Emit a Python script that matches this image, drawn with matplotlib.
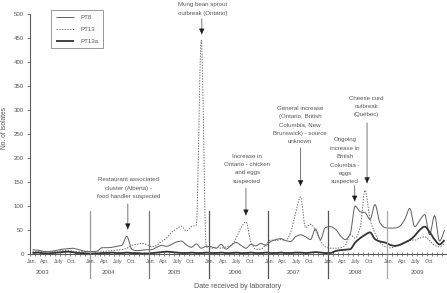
import numpy as np
import matplotlib
matplotlib.use('Agg')
import matplotlib.pyplot as plt

plt.rcParams['font.family'] = ['Liberation Sans', 'DejaVu Sans']

# ---------------- data ----------------
years = [2003, 2004, 2005, 2006, 2007, 2008, 2009]
month_labels = ['Jan.', 'Apr.', 'July', 'Oct.']
series_names = ['PT8', 'PT13', 'PT13a']

pt8 = [9, 8, 6, 5, 6, 8, 10, 11, 12, 10, 7, 5,
       5, 6, 13, 13, 14, 16, 18, 37, 10, 7, 8, 9,
       9, 14, 18, 16, 20, 25, 27, 19, 14, 21, 12, 16,
       15, 12, 20, 10, 18, 24, 18, 12, 20, 17, 22, 18,
       26, 30, 32, 28, 26, 36, 40, 36, 30, 52, 30, 55,
       57, 52, 38, 30, 42, 100, 88, 86, 72, 103, 65, 55,
       54, 54, 58, 72, 95, 57, 70, 82, 40, 80, 27, 50]

pt13 = [5, 6, 5, 4, 5, 6, 7, 8, 6, 5, 5, 6,
        5, 4, 5, 6, 7, 8, 9, 12, 18, 20, 22, 20,
        15, 18, 26, 33, 45, 52, 58, 48, 57, 60, 445, 15,
        12, 14, 12, 15, 18, 33, 55, 67, 25, 10, 10, 20,
        29, 28, 30, 28, 45, 85, 119, 55, 62, 50, 28, 15,
        12, 12, 13, 18, 40, 33, 55, 133, 72, 43, 24, 16,
        13, 15, 20, 25, 29, 29, 33, 36, 28, 18, 15, 22]

pt13a = [2, 3, 2, 1, 2, 3, 4, 5, 4, 2, 2, 1,
         1, 1, 2, 2, 3, 2, 2, 3, 2, 2, 1, 1,
         2, 3, 4, 5, 4, 3, 2, 2, 3, 2, 2, 3,
         2, 2, 3, 2, 2, 3, 2, 2, 3, 2, 2, 3,
         2, 2, 3, 2, 2, 3, 3, 2, 3, 4, 3, 2,
         2, 6, 8, 9, 10, 24, 33, 40, 45, 31, 26, 24,
         19, 17, 19, 24, 29, 38, 50, 57, 46, 30, 20, 29]

event_texts = ['Restaurant associated\ncluster (Alberta) -\nfood handler suspected',
               'Mung bean sprout\noutbreak (Ontario)',
               'Increase in\nOntario - chicken\nand eggs\nsuspected',
               'General increase\n(Ontario, British\nColumbia, New\nBrunswick) - source\nunknown',
               'Ongoing\nincrease in\nBritish\nColumbia -\neggs\nsuspected',
               'Cheese curd\noutbreak\n(Qu\u00e9bec)']

# ---------------- layout ----------------
# text centre x (months), text top (value), arrow x (months), arrow start, arrow end
ann_layout = [(19.8, 160, 19.7, 104, 52),
              (34.7, 524, 34.6, 490, 458),
              (43.75, 209, 43.5, 137, 81),
              (54.4, 309, 54.5, 221, 142),
              (63.5, 243, 65.4, 142, 110),
              (67.7, 330, 67.9, 273, 148)]
month_offsets = [0.3, 3.0, 5.7, 8.4]
year_offsets = [2.6, 3.9, 5.2, 5.3, 5.0, 5.5, 6.0]
sep_colors = ['#9a9a9a', '#7a7a7a', '#555555', '#555555', '#555555', '#aaaaaa']
TXT = '#555555'


def pchip(x, y, n=10):
    x = np.asarray(x, float)
    y = np.asarray(y, float)
    h = np.diff(x)
    delta = np.diff(y) / h
    d = np.zeros_like(y)
    for k in range(1, len(y) - 1):
        if delta[k - 1] * delta[k] > 0:
            d[k] = 2.0 / (1.0 / delta[k - 1] + 1.0 / delta[k])
    d[0] = delta[0]
    d[-1] = delta[-1]
    xs, ys = [], []
    t = np.linspace(0, 1, n, endpoint=False)
    for k in range(len(x) - 1):
        h00 = 2 * t**3 - 3 * t**2 + 1
        h10 = t**3 - 2 * t**2 + t
        h01 = -2 * t**3 + 3 * t**2
        h11 = t**3 - t**2
        xs.append(x[k] + t * h[k])
        ys.append(h00 * y[k] + h10 * h[k] * d[k] + h01 * y[k + 1] + h11 * h[k] * d[k + 1])
    xs.append([x[-1]])
    ys.append([y[-1]])
    return np.concatenate(xs), np.concatenate(ys)


W, H = 447, 293
fig = plt.figure(figsize=(W / 100, H / 100), dpi=100)
ax = fig.add_axes([30 / W, 1 - 254 / H, 417 / W, 240 / H])

months = np.arange(len(pt8)) + 0.5
styles = [dict(color='#5e5e5e', lw=0.7, ls='-'),
          dict(color='#6a6a6a', lw=0.7, ls=(0, (1.4, 1.4))),
          dict(color='#333333', lw=1.3, ls='-')]
for name, vals, st in zip(series_names, [pt8, pt13, pt13a], styles):
    xs, ys = pchip(months, vals)
    ax.plot(xs, ys, label=name, solid_capstyle='butt', **st)

ax.set_xlim(0, 84)
ax.set_ylim(0, 500)
for s in ['top', 'right']:
    ax.spines[s].set_visible(False)
for s in ['left', 'bottom']:
    ax.spines[s].set_color('#5a5a5a')
    ax.spines[s].set_linewidth(0.8)

ax.set_yticks(np.arange(0, 501, 50))
ax.tick_params(axis='y', labelsize=4.4, labelcolor=TXT, color='#5a5a5a',
               length=2.5, width=0.6, pad=2)
ax.set_xticks([])
ax.set_xticks(np.arange(0, 85), minor=True)
ax.tick_params(axis='x', which='minor', direction='inout', length=2.5,
               width=0.5, color='#5a5a5a')

xt = ax.get_xaxis_transform()
for i, yr in enumerate(years):
    base = 12 * i
    for lab, off in zip(month_labels, month_offsets):
        ax.text(base + off, -0.033, lab, transform=xt, ha='center', va='center',
                fontsize=3.8, color=TXT)
    ax.text(base + year_offsets[i], -0.079, str(yr), transform=xt, ha='center',
            va='center', fontsize=4.4, color=TXT)

for i, c in enumerate(sep_colors):
    xb = 12 * (i + 1)
    ax.plot([xb, xb], [-0.10, 0.18], transform=xt, color=c, lw=0.9, clip_on=False)

for txt, (tx, ty, axx, a0, a1) in zip(event_texts, ann_layout):
    ax.text(tx, ty, txt, ha='center', va='top', fontsize=4.4, color=TXT,
            linespacing=1.85, clip_on=False)
    ax.annotate('', xy=(axx, a1), xytext=(axx, a0), annotation_clip=False,
                arrowprops=dict(arrowstyle='-', color='#777777', lw=0.7,
                                shrinkA=0, shrinkB=0))
    ax.annotate('', xy=(axx, a1), xytext=(axx, a1 + 6), annotation_clip=False,
                arrowprops=dict(arrowstyle='-|>,head_length=0.32,head_width=0.16',
                                color='#1e1e1e', lw=0.5, mutation_scale=10,
                                shrinkA=0, shrinkB=0))

leg = ax.legend(loc='upper left', bbox_to_anchor=(51 / W, 1 - 10 / H),
                bbox_transform=fig.transFigure, borderaxespad=0, fontsize=4.4,
                handlelength=3.0, handletextpad=1.0, labelspacing=1.1,
                borderpad=0.75, fancybox=False, framealpha=1)
leg.get_frame().set_edgecolor('#888888')
leg.get_frame().set_linewidth(0.6)
for t in leg.get_texts():
    t.set_color(TXT)

fig.text(5 / W, 1 - 128 / H, 'No. of isolates', rotation=90, ha='center',
         va='center', fontsize=4.8, color=TXT)
fig.text(238 / W, 1 - 287 / H, 'Date received by laboratory', ha='center',
         va='center', fontsize=5.1, color=TXT)

fig.savefig('out.png', dpi=100)
